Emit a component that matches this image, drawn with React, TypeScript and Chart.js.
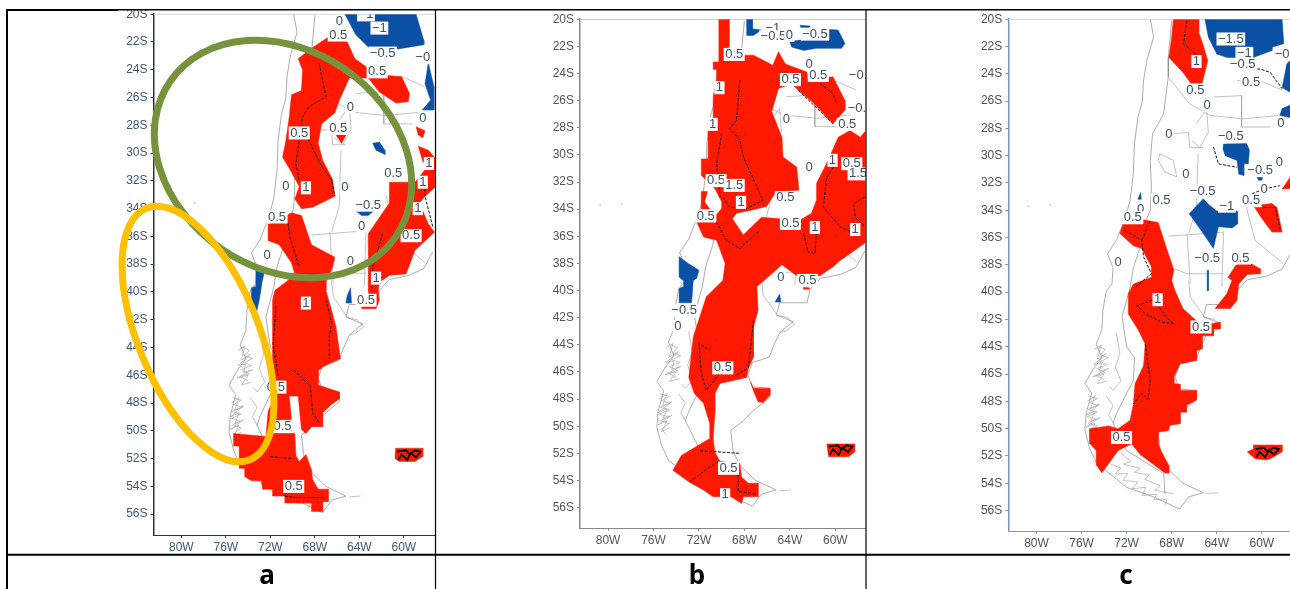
import React, { useEffect, useRef } from "react";
import { Chart, registerables } from "chart.js";
Chart.register(...registerables);

type P = [number, number];
type L = [string, number, number];

const lonTicks = [-80, -76, -72, -68, -64, -60];
const latTicks = [-20, -22, -24, -26, -28, -30, -32, -34, -36, -38, -40, -42, -44, -46, -48, -50, -52, -54, -56];

// shared base map (lon, lat)
const coastWest: P[] = [[-69.9,-20],[-69.6,-21.3],[-70.2,-23],[-70.5,-24.5],[-70.6,-26],[-71,-27.2],[-71.3,-29.1],[-71.4,-31.3],[-71.7,-33.3],[-72.1,-34.5],[-72.9,-36.2],[-73.7,-37.2],[-73.2,-38.2],[-73.3,-39.4],[-73.8,-39.9],[-74.1,-41.3],[-74.2,-42.8],[-74.7,-43.8],[-74.2,-44.8],[-75,-45.7],[-75.7,-46.7],[-75.1,-47.4],[-75.6,-48.9],[-75.7,-50.1],[-75.3,-51.4],[-74.7,-52.5],[-73.5,-53.3],[-72,-54.3],[-69.6,-55],[-67.3,-55.9],[-66.5,-55],[-65.2,-54.7],[-67,-54],[-68.4,-52.9],[-69,-51.8],[-69.2,-50.3],[-68.1,-49.6],[-67.3,-48.9],[-65.8,-47.9],[-65.8,-47.2],[-67.3,-47.1],[-67.7,-46.2],[-67.3,-45.3],[-65.8,-44.9],[-65.5,-44.2],[-64.9,-43.1],[-63.7,-42.3],[-65.2,-41.8],[-64.9,-40.9],[-62.5,-40.9],[-62.2,-39.9],[-61.3,-39.1],[-59.5,-38.8],[-58.2,-38.3],[-57.4,-37.1]];
const andes: P[] = [[-68,-20.1],[-68.3,-22.8],[-68.3,-24.2],[-68.7,-26.9],[-69.7,-28.4],[-69.9,-30.4],[-69.8,-32.3],[-69.9,-34],[-70.5,-35.2],[-70.8,-36.7],[-71.4,-38.2],[-71.7,-39.7],[-72.4,-41.8],[-72,-44],[-71.3,-44.8],[-71.4,-46.5],[-72,-47.4],[-72.9,-48.9],[-73.2,-49.6],[-72,-51.6],[-68.7,-53.3],[-68.6,-54.8]];
const borders: P[][] = [
  [[-64.3,-25.7],[-61.8,-25.6],[-61.8,-27.9],[-59.25,-27.9]],
  [[-68.3,-35.9],[-63.4,-35.6],[-63.55,-39.6]],
  [[-65.65,-29.85],[-65.8,-33.8],[-66.5,-35.7]],
  [[-61.6,-33.05],[-60.6,-36.2],[-58.1,-37.9]],
  [[-65.2,-29.4],[-66.4,-29.4],[-66.5,-28.3],[-68.3,-28.4]],
  [[-69.05,-29.85],[-67.85,-30.35],[-67.55,-31.55],[-68.6,-31.2],[-69.2,-30.35],[-69.05,-29.85]],
  [[-62.2,-24.5],[-60.15,-24.5],[-58.2,-25.2]],
  [[-68.3,-24.25],[-66.4,-26.2],[-64.6,-27.05],[-61.6,-27.3],[-58.5,-27.05]],
  [[-65.8,-27.65],[-64.9,-26.55],[-64.75,-28.3],[-65.5,-29.4],[-66.2,-28.9]],
  [[-68.15,-38.15],[-66.65,-38.65],[-63.4,-38.65]],
  [[-66.65,-35.7],[-66.35,-39.4]],
  [[-66.5,-39.15],[-66.35,-40.35],[-65.2,-41.7]],
  [[-65.2,-41.8],[-64.2,-42],[-63.6,-42.5],[-64.4,-43],[-64.9,-43.1]],
  [[-74.5,-44],[-73.9,-44.2],[-74.3,-44.6],[-73.6,-44.8],[-74.4,-45.1],[-73.7,-45.3],[-74.6,-45.6],[-73.9,-45.9],[-74.7,-46.1],[-74,-46.4]],
  [[-74.9,-44.2],[-74.3,-43.9],[-74.6,-44.9],[-73.8,-44.5],[-74.9,-45.3],[-74.2,-45.2],[-74.4,-45.8],[-73.6,-45.6],[-75,-46.2],[-74,-46],[-74.6,-46.7],[-73.7,-46.5]],
  [[-75.4,-47.6],[-74.6,-47.8],[-75.3,-48.1],[-74.5,-48.3],[-75.4,-48.6],[-74.6,-48.8],[-75.5,-49.1],[-74.7,-49.3],[-75.4,-49.6],[-74.6,-49.8],[-75.3,-50.2],[-74.9,-50.6]],
  [[-75.5,-48],[-74.8,-47.6],[-75.2,-48.5],[-74.4,-48.2],[-75.6,-49],[-74.8,-48.7],[-75.2,-49.5],[-74.4,-49.2],[-75.6,-49.9],[-74.8,-49.6],[-75.3,-50.4],[-74.6,-50.1]],
  [[-72.9,-43],[-72.6,-44.5],[-73,-45.5],[-72.5,-46.5],[-73.2,-47.2],[-73.5,-46.9]],
  [[-73.8,-47.6],[-73.2,-48.3],[-73.6,-49],[-73.1,-49.7]],
  [[-73.4,-52.6],[-72.5,-52.9],[-73,-53.3],[-71.9,-53.3],[-72.3,-53.8],[-71,-53.9],[-71.5,-54.4],[-70.3,-54.3],[-70.6,-54.9],[-69.3,-54.8],[-69.6,-55.2],[-68.4,-55.2],[-68.6,-55.6]],
  [[-72.5,-51.8],[-71.6,-52.4],[-72.3,-52.6],[-70.8,-52.9],[-71.3,-53.2],[-70,-53.4],[-70.4,-53.7],[-69,-54.2],[-69.5,-54.5],[-67.8,-54.8]],
  [[-64.9,-54.75],[-63.9,-54.7]],
];
const falklandInk: P[] = [[-60.6,-51.5],[-59.8,-51.4],[-59.5,-51.7],[-59,-51.4],[-58.5,-51.5],[-58.9,-51.9],[-59.4,-51.6],[-59.7,-52.1],[-60.2,-51.7],[-60.5,-52.1]];
const specks: P[] = [[-80.7,-33.7],[-78.8,-33.6]];

// panel a
const redA: P[][] = [
  [[-66.7,-21.6],[-65.2,-21.8],[-64.4,-23.2],[-63.2,-23.9],[-61.6,-24.4],[-60.2,-24.5],[-59.5,-25.7],[-59.6,-26.3],[-60.7,-26.4],[-62.2,-25.6],[-63.2,-24.6],[-64.9,-24.6],[-65.8,-26.2],[-66.2,-27.1],[-67.4,-27.9],[-67.7,-29.3],[-67.3,-30.5],[-66.4,-31.9],[-66.2,-33.1],[-68.2,-33.9],[-69.2,-34],[-69.8,-33.3],[-69.4,-32.4],[-70.3,-31.1],[-70.9,-30.3],[-70.6,-29.1],[-70.3,-27.4],[-70.1,-25.8],[-69.2,-25.5],[-69.1,-24],[-69.5,-23.2],[-68.2,-22.4]],
  [[-66.1,-28.7],[-65.2,-28.7],[-65.6,-29.3]],
  [[-58.9,-28.1],[-58.1,-28.4],[-58.3,-28.9],[-58.7,-28.7]],
  [[-58.7,-29.5],[-57.8,-29.8],[-57.25,-30.3],[-57.25,-31.2],[-57.7,-31.1],[-58.3,-30.6]],
  [[-61.3,-32.1],[-59,-32.1],[-58.1,-31.2],[-57.7,-31.1],[-57.25,-31.2],[-57.25,-32.5],[-58.1,-33.1],[-58.6,-33.6],[-57.8,-35.1],[-57.25,-35.7],[-59,-37],[-59.8,-38.7],[-61.3,-38.8],[-62.2,-39.3],[-62.3,-39.9],[-62.2,-40.6],[-62.5,-41.2],[-63.8,-41.2],[-63.8,-40.9],[-63.1,-40.6],[-63.2,-39.9],[-63.2,-35.8],[-61.3,-33.6]],
  [[-72.2,-35.1],[-71.5,-34.9],[-70.1,-34.3],[-69.2,-34.5],[-68.3,-36.6],[-66.2,-37.5],[-66.4,-38.2],[-67,-39.3],[-67,-39.9],[-66.5,-41.3],[-66.1,-42.5],[-65.7,-44.8],[-67.3,-45.4],[-67.7,-45.7],[-67.7,-46.7],[-65.8,-47.2],[-65.8,-47.7],[-66.5,-48.1],[-67.3,-48.7],[-67.3,-49.7],[-68.3,-49.7],[-68.8,-50.2],[-69.2,-49.9],[-69.5,-47.5],[-70.3,-47.5],[-70.1,-49.2],[-71,-49.2],[-71,-50],[-69.8,-50.2],[-69.7,-51.8],[-69.4,-52.2],[-68.8,-51.7],[-68.3,-52.8],[-68.2,-53.5],[-67.7,-54.2],[-66.8,-54.2],[-66.8,-55.1],[-67.3,-55.1],[-67.3,-55.8],[-68.3,-55.8],[-68.3,-55.2],[-70.7,-55.2],[-70.7,-54.7],[-71.8,-54.7],[-71.8,-54.2],[-72.7,-54.2],[-72.8,-53.6],[-73.7,-53.6],[-74.3,-53.3],[-74.3,-52.7],[-74.8,-52.7],[-74.8,-51.1],[-75.3,-51.1],[-75.3,-50.2],[-72.4,-50.4],[-72.2,-48.6],[-71.5,-47.3],[-71.5,-46.3],[-71.8,-44.9],[-71.8,-43.5],[-71.8,-40.6],[-71.6,-39.9],[-70.3,-39.1],[-69.8,-38.7],[-70.1,-37.9],[-71.2,-36.6],[-72.2,-36.3]],
  [[-60.75,-51.25],[-58.3,-51.25],[-58.3,-51.85],[-59,-52.2],[-60.4,-52.2],[-60.8,-52]],
];
const blueA: P[][] = [
  [[-65.3,-20],[-58.9,-20],[-58.2,-21.9],[-58.2,-22.2],[-60.5,-22.5],[-62.9,-22.6],[-64.3,-21.5]],
  [[-57.8,-23.5],[-57.3,-25.2],[-57.3,-26.9],[-58.35,-26.9],[-57.6,-26.2],[-58.1,-25]],
  [[-62.8,-29.3],[-62.2,-29.2],[-61.7,-29.8],[-61.7,-30.1],[-62.5,-29.8]],
  [[-64.4,-34.1],[-62.6,-34.1],[-63.2,-34.5],[-63.8,-34.5]],
  [[-73.3,-38.5],[-72.5,-38.5],[-72.7,-39.1],[-73,-40.6],[-73.3,-41.7],[-73.7,-40.8],[-73.7,-39.7],[-73.3,-39.6]],
  [[-64.8,-39.7],[-64.7,-40.8],[-65.2,-40.8],[-65.1,-40.3]],
];
const inkA: P[][] = [
  [[-67.6,-23.55],[-67,-25.95],[-68.5,-26.65],[-69.1,-27.4],[-69.4,-29.05],[-69.7,-30.75],[-69.4,-32.05]],
  [[-68.6,-28.95],[-67.55,-30.75],[-66.5,-31.95],[-66.2,-33.1]],
  [[-70.4,-35.05],[-70.25,-36],[-69.4,-38.2]],
  [[-61.9,-35.8],[-62.8,-38.2],[-62.9,-39.8]],
  [[-58.1,-31.9],[-58.1,-33.1],[-57.4,-35.3]],
  [[-67,-40.55],[-66.5,-42.25],[-66.7,-43.2],[-66.7,-44.8]],
  [[-71.5,-41],[-71.75,-43.8],[-71.3,-46.1]],
  [[-69.9,-45.6],[-68.4,-46.8],[-68.2,-48.7],[-67.6,-49.4]],
  [[-72,-51.85],[-70,-52]],
  [[-70.7,-54.7],[-69.7,-54.8],[-67,-54.8]],
];
const labelsA: L[] = [["−1",-63.4,-20.05],["−1",-62.2,-21],["0",-65.8,-20.5],["0.5",-65.9,-21.5],["−0.5",-61.9,-22.8],["−0",-58.3,-23.1],["0.5",-62.4,-24.15],["0",-64.8,-26.7],["0",-58.3,-27.5],["0.5",-69.4,-28.55],["0.5",-65.9,-28.2],["1",-57.75,-30.75],["0.5",-60.95,-31.5],["1",-58.3,-32.1],["0",-70.6,-32.4],["1",-68.8,-32.5],["0",-65.3,-32.5],["−0.5",-63.2,-33.75],["1",-58.75,-34],["0.5",-71.4,-34.6],["0",-63.8,-35.25],["0.5",-59.35,-35.95],["0",-72.3,-37.4],["0",-64.8,-37.8],["1",-62.5,-39],["1",-68.8,-40.8],["0.5",-63.4,-40.6],["0.5",-71.5,-46.85],["0.5",-70.9,-49.7],["0.5",-69.9,-54]];

// panel b
const redB: P[][] = [
  [[-70.25,-20],[-69.35,-20],[-69.35,-22],[-69.7,-22.65],[-67.2,-22.65],[-65.5,-23.4],[-65,-22.4],[-64.4,-23.3],[-62.5,-23.9],[-62.4,-24.4],[-60.2,-24.25],[-60,-24.6],[-59.15,-26],[-59.15,-26.7],[-60.2,-27.7],[-61.9,-26.2],[-63.3,-25.2],[-63.85,-24.75],[-65,-25.1],[-65.6,-26.8],[-64.7,-28.7],[-64.6,-30.15],[-63.4,-30.9],[-63.2,-32.6],[-65.2,-32.7],[-66.05,-33.8],[-67.5,-34.1],[-68.7,-34.3],[-69.05,-34.7],[-68.1,-35.9],[-66.5,-34.6],[-64.9,-34.7],[-63.1,-34.8],[-62.1,-34.3],[-61.65,-33.3],[-61.65,-32.1],[-61.05,-31.1],[-60.5,-30.15],[-59.75,-28.7],[-58.7,-28.2],[-57.8,-28.7],[-57.4,-28.3],[-57.4,-36.5],[-59.6,-37.8],[-60.2,-38.25],[-61.35,-38.9],[-63.4,-38.9],[-64.7,-38.1],[-66.05,-39.1],[-66.9,-39.7],[-66.8,-41.45],[-67.2,-42.7],[-67.2,-44.9],[-67.65,-45.75],[-67.8,-46.4],[-70.15,-46.85],[-70.6,-47.6],[-70.6,-49.05],[-70.75,-50.9],[-70.6,-51.9],[-70.15,-52.6],[-68.4,-52.75],[-68.25,-53.75],[-67.65,-54.2],[-66.8,-54.2],[-66.8,-55.2],[-68.1,-55.2],[-68.25,-55.7],[-69.15,-55.2],[-70.75,-55.2],[-71.6,-54.7],[-72.8,-54.15],[-74.3,-53.25],[-73.55,-52.15],[-71.05,-50.9],[-71.05,-49.8],[-71.6,-48.3],[-72.4,-47.6],[-72.9,-46.4],[-72.5,-43.4],[-71.35,-40.45],[-69.9,-39.25],[-69.7,-38],[-70.45,-36.3],[-71.6,-36.05],[-72.2,-34.95],[-70.6,-34.55],[-70,-33.95],[-70,-33.45],[-70.6,-32.5],[-71.8,-31.5],[-71.8,-30.3],[-71.2,-30.3],[-71.2,-27.55],[-70.75,-27.55],[-70.75,-25.7],[-70.45,-24.5],[-70.45,-23.7],[-70.75,-23.7],[-70.75,-23.15],[-70.25,-23.15]],
  [[-71.8,-32.7],[-71.25,-32.7],[-71.5,-33.45],[-71.05,-34],[-71.8,-34]],
  [[-67.45,-46.75],[-67.2,-47.2],[-65.75,-47.2],[-65.75,-47.7],[-66.35,-48.25],[-66.8,-48.2],[-67.2,-47.4]],
  [[-60.75,-51.3],[-58.3,-51.3],[-58.3,-51.9],[-58.85,-52.25],[-60.6,-52.25]],
  [[-62.8,-39.75],[-62.3,-39.8],[-62.3,-39.9],[-62.8,-39.9]],
];
const blueB: P[][] = [
  [[-67.8,-20],[-67.3,-20],[-67.3,-20.7],[-66.5,-20.8],[-67.2,-21.2],[-67.8,-21.2]],
  [[-64,-21.65],[-62.8,-21.5],[-60.5,-20.75],[-59.75,-20.8],[-59.15,-21.8],[-59.45,-22.15],[-61.65,-22.15],[-62.8,-22.3],[-63.85,-22.05]],
  [[-63.1,-20.45],[-62.2,-20.5],[-62.4,-20.7],[-63,-20.7]],
  [[-73.75,-37.5],[-72.95,-38],[-72,-38.5],[-72.2,-39.1],[-72.5,-39.25],[-72.65,-40.9],[-73.75,-40.9],[-73.75,-39.85],[-73.35,-39.7],[-73.35,-39.3],[-73.75,-39]],
  [[-64.9,-40.25],[-64.8,-40.85],[-65.3,-40.85]],
];
const inkB: P[][] = [
  [[-70.45,-34.95],[-69.6,-36.3],[-68.4,-36.9],[-66.65,-35.55]],
  [[-68.4,-24.5],[-68.7,-27.45],[-69.3,-28.05],[-68.4,-28.9],[-68.1,-30.15],[-66.9,-32.35],[-66.35,-33.35],[-67.8,-33.95],[-69.3,-33.85],[-69.9,-33.1]],
  [[-70,-28.4],[-70.45,-30.65],[-70.15,-33.1]],
  [[-62.8,-35.8],[-62.4,-37.15],[-61.8,-37.3],[-61.65,-35.55]],
  [[-59.9,-30.65],[-60.75,-31.6],[-61.05,-33.85],[-59.6,-35.3],[-58.25,-35.8]],
  [[-57.4,-33.1],[-58.4,-33.6],[-58.25,-34.6],[-57.4,-35.3]],
  [[-61.35,-24.75],[-60.2,-25.5],[-59.9,-26.2]],
  [[-63.25,-25.25],[-60.2,-27.7]],
  [[-67.2,-42.2],[-67.65,-45.7],[-68.85,-46.3]],
  [[-70.15,-46.1],[-71.35,-47.35],[-71.8,-46.1],[-72,-43.9],[-71.05,-44.4]],
  [[-71.9,-51.8],[-68.4,-52]],
  [[-72.8,-54.1],[-71.35,-53.2],[-70.3,-52.6]],
  [[-68.55,-52.9],[-68.55,-54.8],[-66.95,-55]],
];
const labelsB: L[] = [["−1",-65.5,-20.7],["−0.5",-65.45,-21.3],["0",-64.05,-21.2],["−0.5",-61.8,-21.1],["0.5",-68.9,-22.6],["1",-70.2,-25.05],["0",-62.3,-23.3],["0.5",-61.5,-24.15],["0.5",-63.95,-24.45],["−0.",-58,-24.15],["−0.",-58.1,-26.6],["0",-64.3,-27.4],["0.5",-58.95,-27.75],["1",-70.8,-27.75],["1",-60.25,-30.4],["0",-62.3,-30.9],["0.5",-58.55,-30.65],["1.5",-58,-31.4],["0.5",-70.5,-31.9],["1.5",-68.9,-32.25],["1",-68.3,-33.5],["0.5",-64.4,-33.15],["0.5",-71.4,-34.5],["0.5",-63.95,-35.05],["1",-61.8,-35.35],["1",-58.25,-35.5],["0",-64.8,-39.05],["0.5",-62.45,-39.25],["−0.5",-73.3,-41.5],["0",-73.85,-42.65],["0.5",-69.9,-45.7],["0.5",-69.4,-53.1],["1",-69.7,-55.05]];

// panel c
const redC: P[][] = [
  [[-67.85,-20],[-65.6,-20],[-65.6,-20.95],[-65.2,-21.9],[-64.8,-23.05],[-65.3,-24.7],[-66.3,-24.7],[-67,-23.9],[-68.25,-22.8],[-68,-21.3]],
  [[-72.3,-35],[-70.5,-34.7],[-69.2,-34.9],[-68.45,-36.8],[-67.8,-38.4],[-68,-39.15],[-67.7,-39.9],[-67,-41.2],[-65.8,-42.1],[-65.2,-42.3],[-64.45,-42.3],[-63.7,-42.2],[-63.7,-42.7],[-64.3,-42.7],[-64.3,-43.2],[-65.3,-43.2],[-65.3,-44.15],[-65.8,-44.3],[-65.8,-45],[-67.25,-45.25],[-67.8,-46.2],[-67.8,-46.7],[-67.25,-46.75],[-67.25,-47.2],[-65.8,-47.2],[-65.8,-47.9],[-66.7,-48.3],[-66.7,-48.8],[-67.25,-48.8],[-67.25,-49.65],[-68.15,-49.75],[-68.3,-50.15],[-69.2,-50.25],[-69.2,-51.1],[-68.9,-51.7],[-68.25,-52.7],[-68.25,-53.25],[-68.6,-53.25],[-70.8,-51.9],[-71.55,-51.1],[-72.75,-51.6],[-74.2,-53.25],[-74.65,-52.7],[-74.7,-51.6],[-75.25,-51.1],[-75.3,-50],[-73.6,-49.8],[-72.75,-50],[-71.7,-49.4],[-71.4,-48.2],[-71.25,-46.7],[-70.5,-45.4],[-70.35,-43.8],[-70.95,-42.8],[-71.85,-41.6],[-71.85,-40.1],[-71.4,-39.4],[-69.8,-38.9],[-69.8,-38.15],[-70.65,-36.8],[-71.4,-36.6],[-72.6,-35.7]],
  [[-62.2,-37.9],[-61,-37.9],[-60.1,-38.3],[-60.15,-38.65],[-61.3,-38.7],[-62.05,-39.4],[-62.2,-40.6],[-62.8,-41.2],[-64.15,-41.2],[-63.1,-40.1],[-62.65,-39.15],[-63,-38.9]],
  [[-60.75,-33.65],[-59.1,-33.5],[-58.65,-33.8],[-58.2,-35.6],[-59.1,-35.6],[-60,-34.6]],
  [[-58.2,-32.45],[-57.5,-31.6],[-57.5,-32.4]],
  [[-60.75,-51.2],[-58.2,-51.2],[-58.2,-51.7],[-59,-52.1],[-59.55,-52.3],[-60.6,-52.2],[-61.3,-51.7],[-60.75,-51.5]],
];
const blueC: P[][] = [
  [[-65.05,-20],[-58.2,-20],[-58.05,-21.8],[-59.1,-22.05],[-59.1,-22.3],[-60.75,-22.8],[-63.1,-22.8],[-64,-22.55],[-64.75,-21.3]],
  [[-57.8,-23.3],[-57.5,-23],[-57.5,-25.35],[-58.2,-25],[-57.9,-23.8]],
  [[-57.5,-26.3],[-57.5,-27.2],[-58.4,-27.05],[-58.2,-26.55]],
  [[-63.4,-29.15],[-61.35,-29.1],[-61.1,-29.6],[-61.2,-30.6],[-61.6,-30.6],[-61.6,-31.45],[-62.05,-31.35],[-62.2,-30.35],[-63.25,-30],[-63.45,-29.5]],
  [[-60.45,-31.55],[-59.9,-31.5],[-60,-31.8],[-60.3,-31.8]],
  [[-66.45,-34.25],[-65.2,-33.15],[-64.75,-33.55],[-64,-34.05],[-62.2,-34.05],[-62.15,-35],[-62.65,-35.3],[-63.85,-35.2],[-64.3,-36.8],[-65.2,-35.7]],
  [[-71,-33.2],[-70.7,-33.2],[-70.75,-32.7]],
  [[-64.85,-38.4],[-64.75,-38.4],[-64.75,-39.9],[-64.85,-39.9]],
];
const inkC: P[][] = [
  [[-71.1,-41],[-69.65,-40.55],[-68.3,-42],[-67.8,-42.3],[-68.9,-42.2],[-70.3,-41.6],[-71.1,-41]],
  [[-70.35,-43.8],[-69.9,-46.5],[-70.1,-47.85],[-70.65,-47.4],[-71.4,-48.2]],
  [[-66.65,-20.1],[-66.95,-21.8],[-65.5,-22.8]],
  [[-72.15,-35.5],[-70.65,-36.2],[-70.5,-37.4],[-69.8,-38.65],[-71.25,-39.65]],
  [[-70.65,-36.2],[-69.9,-34.75]],
  [[-59.85,-33.8],[-58.8,-33.8],[-58.35,-35.5]],
  [[-62.8,-23.65],[-60.15,-23.65],[-59.25,-23.9],[-58.2,-25.1]],
  [[-61.6,-33.05],[-59.85,-32.45],[-58.4,-32.2]],
  [[-64.3,-29.35],[-63.85,-30.6],[-62.2,-30.85]],
];
const labelsC: L[] = [["−1.5",-62.75,-21.45],["−1",-61.55,-22.5],["−0",-58.2,-22.6],["1",-65.8,-23.1],["−0.5",-61.7,-23.35],["0.5",-60.95,-24.6],["0.5",-65.9,-25.2],["0",-64.85,-26.3],["0",-58.3,-27.65],["0",-68.25,-28.45],["−0.5",-62.75,-28.6],["0",-58.45,-30.5],["−0.5",-60.15,-31.1],["0",-66.75,-31.35],["0",-59.8,-32.45],["−0.5",-65.25,-32.6],["0.5",-68.9,-33.25],["0",-70.75,-33.95],["0.5",-71.45,-34.55],["−1",-63.1,-33.7],["0.5",-60.95,-33.3],["−0.5",-64.85,-37.55],["0.5",-61.9,-37.5],["0",-72.75,-37.8],["1",-69.25,-40.55],["0.5",-65.4,-42.55],["0.5",-72.45,-50.65]];

const RED = "#fe1a00";
const BLUE = "#0a50a5";

type Panel = {
  left: number; right: number; top: number; bottom: number;
  lonMin: number; lonMax: number;
  red: P[][]; blue: P[][]; ink: P[][]; labels: L[];
  axisColor: string; tickColor: string; topColor: string;
};
const panels: Panel[] = [
  { left: 153.5, right: 435, top: 14, bottom: 535, lonMin: -82.5, lonMax: -57.2, red: redA, blue: blueA, ink: inkA, labels: labelsA, axisColor: "#333333", tickColor: "#3f5870", topColor: "#cccccc" },
  { left: 580, right: 866, top: 19, bottom: 527.3, lonMin: -82.47, lonMax: -57.3, red: redB, blue: blueB, ink: inkB, labels: labelsB, axisColor: "#888888", tickColor: "#555555", topColor: "#bbbbbb" },
  { left: 1008.3, right: 1290, top: 18.7, bottom: 530, lonMin: -82.5, lonMax: -57.5, red: redC, blue: blueC, ink: inkC, labels: labelsC, axisColor: "#7a98b8", tickColor: "#505050", topColor: "#cccccc" },
];

const toXY = (pts: P[]) => pts.map(([x, y]) => ({ x, y }));

function buildDatasets(p: Panel) {
  const sets: any[] = [];
  const line = (pts: P[], color: string, width: number, order: number, dash?: number[]) =>
    sets.push({ data: toXY(pts), showLine: true, pointRadius: 0, borderColor: color, borderWidth: width, borderDash: dash ?? [], fill: false, order, tension: 0 });
  const poly = (pts: P[], color: string, order: number) =>
    sets.push({ data: toXY([...pts, pts[0]]), showLine: true, pointRadius: 0, borderColor: color, borderWidth: 0.5, backgroundColor: color, fill: "shape", order, tension: 0 });
  line([[p.lonMin, -20], [p.lonMax, -20]], p.topColor, 1.5, 5);
  line(coastWest, "#8a8a8a", 0.7, 4);
  line(andes, "#8a8a8a", 0.7, 4);
  borders.forEach((b) => line(b, "#a8a8a8", 0.7, 4));
  p.red.forEach((s) => poly(s, RED, 3));
  p.blue.forEach((s) => poly(s, BLUE, 3));
  p.ink.forEach((s) => line(s, "#201010", 1, 2, [3, 1.5]));
  line(falklandInk, "#000000", 1.8, 1);
  sets.push({ data: toXY(specks), showLine: false, pointRadius: 1, backgroundColor: "#cfcfcf", borderWidth: 0, order: 6 });
  return sets;
}

const labelPlugin = {
  id: "contourLabels",
  afterDatasetsDraw(chart: any, _a: any, opts: any) {
    const { ctx, scales, chartArea } = chart;
    ctx.save();
    ctx.beginPath();
    ctx.rect(chartArea.left, chartArea.top, chartArea.right - chartArea.left, chartArea.bottom - chartArea.top);
    ctx.clip();
    ctx.font = "13px 'Liberation Sans'";
    ctx.textAlign = "center";
    ctx.textBaseline = "middle";
    (opts.items as L[]).forEach(([t, lon, lat]) => {
      const x = scales.x.getPixelForValue(lon);
      const y = scales.y.getPixelForValue(lat);
      const w = ctx.measureText(t).width + 3;
      ctx.fillStyle = "#ffffff";
      ctx.fillRect(x - w / 2, y - 6.5, w, 13);
      ctx.fillStyle = "#3d4f60";
      ctx.fillText(t, x, y);
    });
    ctx.restore();
  },
};

function MapPanel({ p }: { p: Panel }) {
  const ref = useRef<HTMLCanvasElement>(null);
  const padTop = 10;
  const axisW = 50;
  const axisH = 20;
  const left = Math.floor(p.left - axisW);
  const width = Math.ceil(p.right - left);
  const height = Math.ceil(p.bottom - p.top + padTop + axisH);
  useEffect(() => {
    const chart = new Chart(ref.current!, {
      type: "scatter",
      data: { datasets: buildDatasets(p) },
      plugins: [labelPlugin],
      options: {
        animation: false,
        responsive: false,
        layout: { autoPadding: false, padding: { top: padTop, left: p.left - axisW - left, right: 0, bottom: 0 } },
        plugins: { legend: { display: false }, tooltip: { enabled: false }, contourLabels: { items: p.labels } } as any,
        scales: {
          x: {
            type: "linear", min: p.lonMin, max: p.lonMax,
            afterBuildTicks: (s: any) => { s.ticks = lonTicks.map((value) => ({ value })); },
            afterFit: (s: any) => { s.height = axisH; },
            grid: { drawOnChartArea: false, drawTicks: true, tickLength: 3, color: p.axisColor },
            border: { display: true, color: p.axisColor, width: 1 },
            ticks: { autoSkip: false, maxRotation: 0, padding: 2, color: p.tickColor, font: { family: "'Liberation Sans'", size: 12 }, callback: (v: any) => `${Math.abs(v)}W` },
          },
          y: {
            type: "linear", min: -57.5, max: -20,
            afterBuildTicks: (s: any) => { s.ticks = latTicks.map((value) => ({ value })); },
            afterFit: (s: any) => { s.width = axisW; },
            grid: { drawOnChartArea: false, drawTicks: true, tickLength: 3, color: p.axisColor },
            border: { display: true, color: p.axisColor, width: 1.5 },
            ticks: { autoSkip: false, padding: 3, color: p.tickColor, font: { family: "'Liberation Sans'", size: 12 }, callback: (v: any) => `${Math.abs(v)}S` },
          },
        },
      } as any,
    });
    return () => chart.destroy();
  }, []);
  return (
    <canvas
      ref={ref}
      width={width}
      height={height}
      style={{ position: "absolute", left, top: p.top - padTop, width, height }}
    />
  );
}

const captions: [string, number][] = [["a", 267], ["b", 697], ["c", 1126]];

export default function App() {
  return (
    <div style={{ position: "absolute", left: 0, top: 0, width: 1290, height: 589, overflow: "hidden", background: "#fff" }}>
      {panels.map((p, i) => <MapPanel key={i} p={p} />)}
      <svg width={1290} height={589} style={{ position: "absolute", left: 0, top: 0 }}>
        <line x1={6} y1={10} x2={118} y2={10} stroke="#000" strokeWidth={2} />
        <line x1={118} y1={9.7} x2={1290} y2={9.7} stroke="#000" strokeWidth={1.4} />
        <line x1={6} y1={554.7} x2={1290} y2={554.7} stroke="#000" strokeWidth={2} />
        <line x1={7} y1={9} x2={7} y2={589} stroke="#000" strokeWidth={2} />
        <line x1={435.5} y1={10} x2={435.5} y2={589} stroke="#000" strokeWidth={1.2} />
        <line x1={866} y1={10} x2={866} y2={589} stroke="#000" strokeWidth={1.2} />
        <ellipse cx={283} cy={159} rx={137} ry={109} transform="rotate(34.5 283 159)" fill="none" stroke="#76923c" strokeWidth={7} />
        <ellipse cx={198} cy={334} rx={136} ry={60} transform="rotate(67.6 198 334)" fill="none" stroke="#ffc000" strokeWidth={7} />
      </svg>
      {captions.map(([t, x]) => (
        <div key={t} style={{ position: "absolute", left: x - 20, width: 40, top: 559, textAlign: "center", font: "700 26px 'Noto Sans'", lineHeight: "30px", color: "#000" }}>{t}</div>
      ))}
    </div>
  );
}
